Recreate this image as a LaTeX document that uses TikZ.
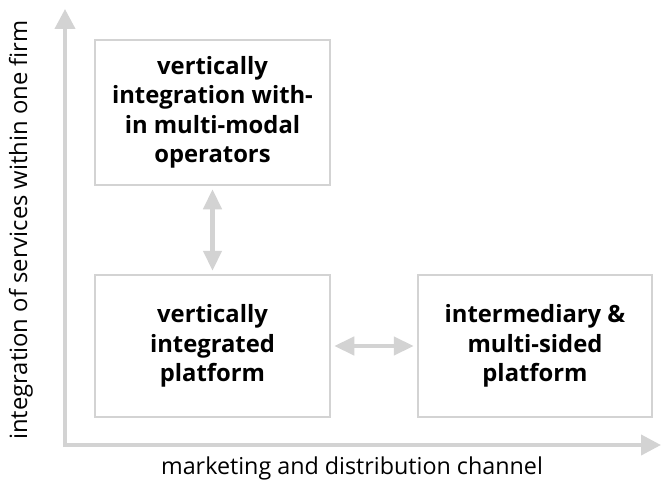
\documentclass[tikz,border=0pt]{standalone}
\usepackage{fontspec}
\setmainfont{Open Sans}
\usetikzlibrary{arrows.meta}
\definecolor{lg}{HTML}{D3D3D3}
\begin{document}
\begin{tikzpicture}[x=1pt,y=-1pt,
  box/.style={draw=lg,line width=2.5pt,align=center,font=\fontsize{23.8}{29.5}\selectfont\bfseries,inner sep=0pt},
  axis/.style={draw=lg,line width=4pt,-{Triangle[length=20pt,width=20pt]}},
  dbl/.style={draw=lg,line width=4.5pt,{Triangle[length=20pt,width=18pt]}-{Triangle[length=20pt,width=18pt]}},
  ylbl/.style={font=\fontsize{23.8}{28}\selectfont},
  xlbl/.style={font=\fontsize{23.3}{28}\selectfont}]
\useasboundingbox (0,0) rectangle (661,484);
\node[box,minimum width=235pt,minimum height=145pt] (top) at (212.5,112.5) {vertically\\integration with-\\in multi-modal\\operators};
\node[box,minimum width=235pt,minimum height=142pt] (vip) at (212.5,346) {vertically\\integrated\\platform};
\node[box,minimum width=234pt,minimum height=142pt] (imp) at (535,346) {intermediary \&\\multi-sided\\platform};
\coordinate (o) at (65,445);
\coordinate (ytip) at (65,9);
\coordinate (xtip) at (661,445);
\draw[axis] ([yshift=-2pt]o) -- (ytip);
\draw[axis] ([xshift=-2pt]o) -- (xtip);
\draw[dbl] ([yshift=-3pt]top.south) -- ([yshift=3pt]vip.north);
\draw[dbl] ([xshift=3pt]vip.east) -- ([xshift=-3pt]imp.west);
\node[ylbl,rotate=90] (ylab) at (21,230) {integration of services within one firm};
\node[xlbl] (xlab) at (352,468) {marketing and distribution channel};
\end{tikzpicture}
\end{document}
